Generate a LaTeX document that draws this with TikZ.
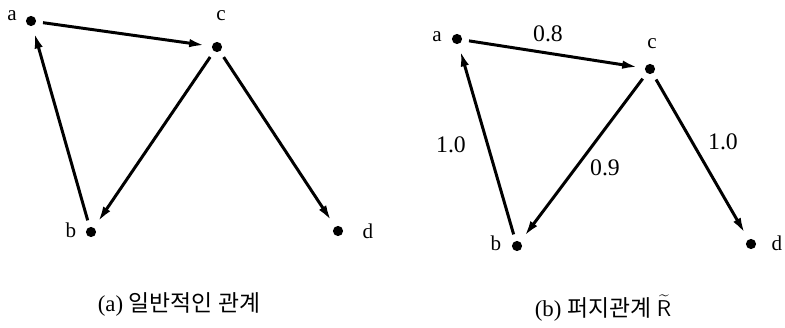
\documentclass[tikz,border=0pt]{standalone}
\usepackage{fontspec}
\setmainfont{Liberation Serif}
\newfontfamily\krfont{Noto Sans CJK KR}
\usetikzlibrary{arrows.meta,positioning}

\begin{document}
\begin{tikzpicture}[
    x=0.02cm, y=-0.02cm,
    font=\fontsize{12}{14}\selectfont,
    >={Latex[length=9pt,width=4.8pt]},
    dot/.style={circle,fill=black,inner sep=0pt,minimum size=5.8pt,outer sep=4pt},
    lbl/.style={inner sep=1pt},
    wgt/.style={inner sep=1pt,font=\fontsize{13.5}{15}\selectfont},
    captext/.style={inner sep=1pt,font=\fontsize{13}{15}\selectfont},
    arr/.style={->,line width=1.7pt}
  ]
  \useasboundingbox (0,0) rectangle (785,328);

  % (a) plain relation
  \node[dot] (a1) at (31,21) {};
  \node[dot] (c1) at (217,47) {};
  \node[dot] (b1) at (91,232) {};
  \node[dot] (d1) at (338,231) {};
  \node[lbl] (la1) at (12,16) {a};
  \node[lbl] (lc1) at (221,16) {c};
  \node[lbl] (lb1) at (71,230) {b};
  \node[lbl] (ld1) at (368,231) {d};
  \draw[arr] (a1) -- (c1);
  \draw[arr] (c1) -- (b1);
  \draw[arr] (b1) -- (a1);
  \draw[arr] (c1) -- (d1);
  \node[captext] (capa) at (179,304) {(a) {\krfont 일반적인 관계}};

  % (b) fuzzy relation
  \node[dot] (a2) at (457,39) {};
  \node[dot] (c2) at (650,69) {};
  \node[dot] (b2) at (517,246) {};
  \node[dot] (d2) at (751,244) {};
  \node[lbl] (la2) at (437,37) {a};
  \node[lbl] (lc2) at (652,44) {c};
  \node[lbl] (lb2) at (496,243) {b};
  \node[lbl] (ld2) at (777,243) {d};
  \draw[arr] (a2) -- (c2);
  \draw[arr] (c2) -- (b2);
  \draw[arr] (b2) -- (a2);
  \draw[arr] (c2) -- (d2);
  \node[wgt] (w1) at (548,34) {0.8};
  \node[wgt] (w2) at (451,145) {1.0};
  \node[wgt] (w3) at (605,168) {0.9};
  \node[wgt] (w4) at (723,142) {1.0};
  \node[captext] (capb) at (603,308) {(b) {\krfont 퍼지관계} $\widetilde{\mathsf{R}}$};
\end{tikzpicture}
\end{document}
